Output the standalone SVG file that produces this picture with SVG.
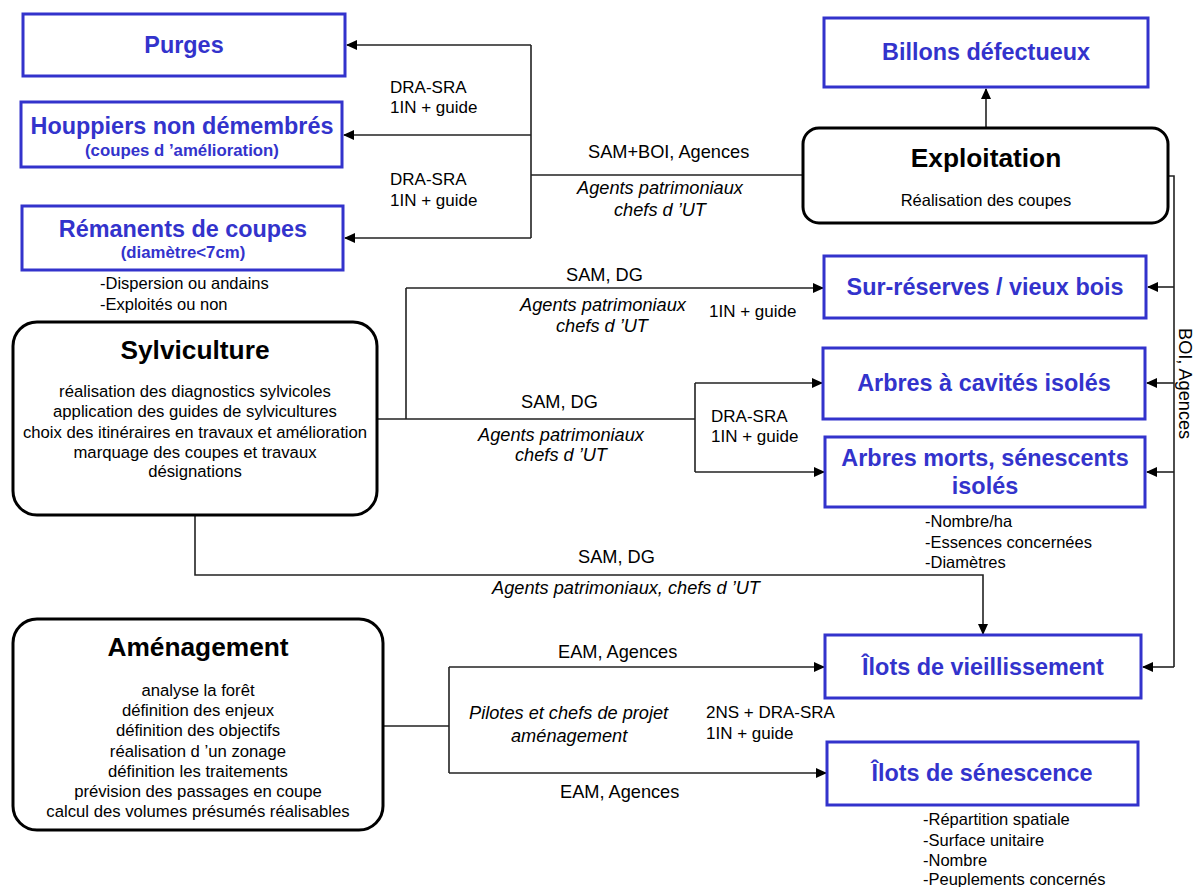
<svg xmlns="http://www.w3.org/2000/svg" width="1195" height="887" viewBox="0 0 1195 887">
<style>
.bb{fill:#fff;stroke:#3333cc;stroke-width:3}
.rb{fill:#fff;stroke:#000;stroke-width:3}
.bt{font-family:"Liberation Sans",Arial,sans-serif;font-weight:bold;font-size:23.4px;fill:#3333cc;text-anchor:middle}
.bs{font-family:"Liberation Sans",Arial,sans-serif;font-weight:bold;font-size:16.8px;fill:#3333cc;text-anchor:middle}
.kt{font-family:"Liberation Sans",Arial,sans-serif;font-weight:bold;font-size:26.3px;fill:#000;text-anchor:middle}
.kb{font-family:"Liberation Sans",Arial,sans-serif;font-size:16.7px;fill:#000;text-anchor:middle}
.lb{font-family:"Liberation Sans",Arial,sans-serif;font-size:17px;fill:#000}
.lg{font-family:"Liberation Sans",Arial,sans-serif;font-size:18.2px;fill:#000}
.it{font-family:"Liberation Sans",Arial,sans-serif;font-size:18.2px;font-style:italic;fill:#000}
.nt{font-family:"Liberation Sans",Arial,sans-serif;font-size:16.5px;fill:#000}
.c{fill:none;stroke:#222;stroke-width:1.6}
.a{fill:none;stroke:#222;stroke-width:1.6;marker-end:url(#ah)}
</style>
<defs>
<marker id="ah" markerWidth="11" markerHeight="10" refX="10" refY="5" orient="auto" markerUnits="userSpaceOnUse">
<path d="M0,0 L11,5 L0,10 z" fill="#000"/>
</marker>
</defs>
<rect width="1195" height="887" fill="#fff"/>

<g id="connectors">
<path class="c" d="M803,175 H531 M531,45 V238"/>
<path class="a" d="M531,45 H347"/>
<path class="a" d="M531,135 H344"/>
<path class="a" d="M531,238 H345"/>
<path class="a" d="M986,128 V89"/>
<path class="c" d="M1168,176 H1174 V667"/>
<path class="a" d="M1174,287 H1148"/>
<path class="a" d="M1174,383 H1147"/>
<path class="a" d="M1174,472 H1147"/>
<path class="a" d="M1174,667 H1143"/>
<path class="c" d="M377,419 H695 M406,419 V288 M695,383 V472"/>
<path class="a" d="M406,288 H823"/>
<path class="a" d="M695,383 H822"/>
<path class="a" d="M695,472 H824"/>
<path class="a" d="M195,515 V575 H983 V634"/>
<path class="c" d="M383,726 H449 M449,667 V773"/>
<path class="a" d="M449,667 H824"/>
<path class="a" d="M449,773 H826"/>
<text class="lb" x="390" y="93">DRA-SRA</text>
<text class="lb" x="390" y="113">1IN + guide</text>
<text class="lb" x="390" y="185">DRA-SRA</text>
<text class="lb" x="390" y="206">1IN + guide</text>
<text class="lg" x="588" y="158">SAM+BOI, Agences</text>
<text class="it" x="660" y="194" text-anchor="middle">Agents patrimoniaux</text>
<text class="it" x="660" y="216" text-anchor="middle">chefs d ’UT</text>
<text class="lg" x="566" y="281">SAM, DG</text>
<text class="it" x="603" y="311" text-anchor="middle">Agents patrimoniaux</text>
<text class="it" x="602" y="332" text-anchor="middle">chefs d ’UT</text>
<text class="lb" x="709" y="317">1IN + guide</text>
<text class="lg" x="521" y="408">SAM, DG</text>
<text class="it" x="561" y="441" text-anchor="middle">Agents patrimoniaux</text>
<text class="it" x="561" y="461" text-anchor="middle">chefs d ’UT</text>
<text class="lb" x="711" y="422">DRA-SRA</text>
<text class="lb" x="711" y="442">1IN + guide</text>
<text class="lg" x="578" y="563">SAM, DG</text>
<text class="it" x="626" y="594" text-anchor="middle">Agents patrimoniaux, chefs d ’UT</text>
<text class="lg" x="558" y="658">EAM, Agences</text>
<text class="it" x="469" y="719">Pilotes et chefs de projet</text>
<text class="it" x="511" y="742">aménagement</text>
<text class="lg" x="560" y="798">EAM, Agences</text>
<text class="lb" x="706" y="718">2NS + DRA-SRA</text>
<text class="lb" x="706" y="739">1IN + guide</text>
<text class="lg" transform="translate(1179,328) rotate(90)">BOI, Agences</text>
</g>

<g id="purges">
<rect class="bb" x="23" y="14" width="322" height="62"/>
<text class="bt" x="184" y="53">Purges</text>
</g>
<g id="houppiers">
<rect class="bb" x="21" y="102" width="321" height="65"/>
<text class="bt" x="182" y="134">Houppiers non démembrés</text>
<text class="bs" x="182" y="156">(coupes d ’amélioration)</text>
</g>
<g id="remanents">
<rect class="bb" x="22" y="206" width="321" height="64"/>
<text class="bt" x="183" y="237">Rémanents de coupes</text>
<text class="bs" x="183" y="258">(diamètre&lt;7cm)</text>
<text class="nt" x="100" y="289">-Dispersion ou andains</text>
<text class="nt" x="100" y="310">-Exploités ou non</text>
</g>
<g id="billons">
<rect class="bb" x="824" y="18" width="324" height="69"/>
<text class="bt" x="986" y="60">Billons défectueux</text>
</g>
<g id="exploitation">
<rect class="rb" x="803" y="128" width="365" height="95" rx="16"/>
<text class="kt" x="986" y="167">Exploitation</text>
<text class="nt" x="986" y="206" text-anchor="middle">Réalisation des coupes</text>
</g>
<g id="surreserves">
<rect class="bb" x="824" y="256" width="322" height="62"/>
<text class="bt" x="985" y="295">Sur-réserves / vieux bois</text>
</g>
<g id="cavites">
<rect class="bb" x="823" y="348" width="322" height="71"/>
<text class="bt" x="984" y="391">Arbres à cavités isolés</text>
</g>
<g id="morts">
<rect class="bb" x="825" y="437" width="320" height="70"/>
<text class="bt" x="985" y="466">Arbres morts, sénescents</text>
<text class="bt" x="985" y="494">isolés</text>
<text class="nt" x="925" y="527">-Nombre/ha</text>
<text class="nt" x="925" y="548">-Essences concernées</text>
<text class="nt" x="925" y="568">-Diamètres</text>
</g>
<g id="sylviculture">
<rect class="rb" x="13" y="322" width="364" height="193" rx="24"/>
<text class="kt" x="195" y="359">Sylviculture</text>
<text class="kb" x="195" y="397">réalisation des diagnostics sylvicoles</text>
<text class="kb" x="195" y="417">application des guides de sylvicultures</text>
<text class="kb" x="195" y="438">choix des itinéraires en travaux et amélioration</text>
<text class="kb" x="195" y="458">marquage des coupes et travaux</text>
<text class="kb" x="195" y="477">désignations</text>
</g>
<g id="vieillissement">
<rect class="bb" x="825" y="635" width="316" height="63"/>
<text class="bt" x="983" y="675">Îlots de vieillissement</text>
</g>
<g id="senescence">
<rect class="bb" x="827" y="742" width="311" height="63"/>
<text class="bt" x="982" y="781">Îlots de sénescence</text>
<text class="nt" x="923" y="825">-Répartition spatiale</text>
<text class="nt" x="923" y="846">-Surface unitaire</text>
<text class="nt" x="923" y="866">-Nombre</text>
<text class="nt" x="923" y="885">-Peuplements concernés</text>
</g>
<g id="amenagement">
<rect class="rb" x="13" y="619" width="370" height="211" rx="24"/>
<text class="kt" x="198" y="656">Aménagement</text>
<text class="kb" x="198" y="696">analyse la forêt</text>
<text class="kb" x="198" y="716">définition des enjeux</text>
<text class="kb" x="198" y="736">définition des objectifs</text>
<text class="kb" x="198" y="757">réalisation d ’un zonage</text>
<text class="kb" x="198" y="777">définition les traitements</text>
<text class="kb" x="198" y="797">prévision des passages en coupe</text>
<text class="kb" x="198" y="817">calcul des volumes présumés réalisables</text>
</g>
</svg>
